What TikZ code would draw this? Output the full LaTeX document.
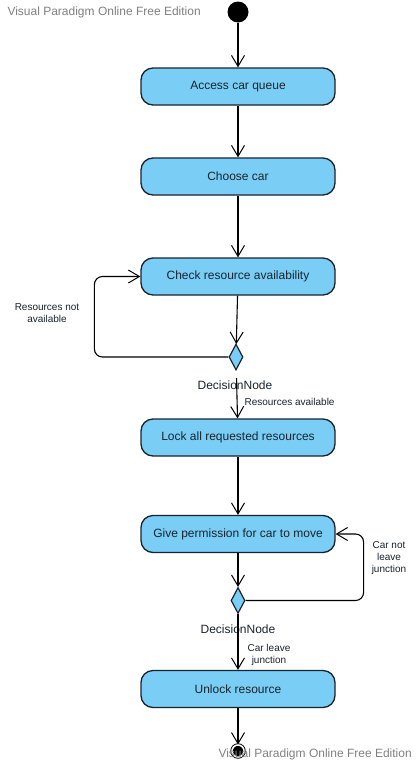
\documentclass[tikz,border=0pt]{standalone}
\usepackage{fontspec}
\setmainfont{Liberation Sans}
\usetikzlibrary{arrows.meta,shapes.geometric}
\definecolor{actfill}{RGB}{122,206,245}
\definecolor{actline}{RGB}{25,35,45}
\definecolor{markgray}{RGB}{128,128,128}

\begin{document}
\begin{tikzpicture}[x=1pt, y=-1pt,
  action/.style={draw=actline, fill=actfill, line width=1.3pt, rounded corners=12pt,
    minimum width=194pt, minimum height=37pt, font=\fontsize{12}{14}\selectfont, text=actline},
  decision/.style={diamond, draw=actline, fill=actfill, line width=1.2pt,
    minimum width=14pt, minimum height=26pt, inner sep=0pt},
  startnode/.style={circle, fill=black, minimum size=21pt, inner sep=0pt},
  endnode/.style={circle, draw=black, fill=black, line width=0.9pt, double=white,
    double distance=1.6pt, minimum size=12pt, inner sep=0pt},
  flow/.style={-{Straight Barb[length=11pt,width=13pt,line width=1pt]}, line width=1.1pt},
  dlabel/.style={font=\fontsize{12}{14}\selectfont, text=actline},
  small/.style={font=\fontsize{10}{12}\selectfont, align=center, text=actline},
  watermark/.style={font=\fontsize{12}{14}\selectfont, text=markgray}
]
\useasboundingbox (0,0) rectangle (416,764);

\node[startnode] (start) at (238,12) {};
\node[action] (queue) at (238,86.5) {Access car queue};
\node[action] (choose) at (238,176.5) {Choose car};
\node[action] (check) at (238,276.5) {Check resource availability};
\node[decision] (dec1) at (236,357) {};
\node[dlabel] (dec1label) at (235,385) {DecisionNode};
\node[action] (lock) at (238,437.5) {Lock all requested resources};
\node[action] (permit) at (238,534) {Give permission for car to move};
\node[decision] (dec2) at (238,600.5) {};
\node[dlabel] (dec2label) at (238,629) {DecisionNode};
\node[action] (unlock) at (238,689) {Unlock resource};
\node[endnode] (finish) at (238,751) {};

\draw[flow] (start) -- (queue);
\draw[flow] (queue) -- (choose);
\draw[flow] (choose) -- (check);
\draw[flow] (check) -- (dec1);

% loop back when resources are missing
\draw[flow, rounded corners=8pt] (dec1.west) -- ++(-134,0) |- (check.west);
\node[small] at (47,313.5) {Resources not\\available};

\draw[flow, shorten <=8pt] (dec1) -- (lock);
\node[small, anchor=west] at (241,402) {Resources available};

\draw[flow] (lock) -- (permit);
\draw[flow] (permit) -- (dec2);

% loop back while car is still in junction
\draw[flow, rounded corners=8pt] (dec2.east) -- ++(118,0) |- (permit.east);
\node[small] at (389,558) {Car not\\leave\\junction};

\draw[flow] (dec2) -- (unlock);
\node[small] at (269,655) {Car leave\\junction};

\draw[flow] (unlock) -- (finish);

\node[watermark, anchor=west] at (4,12) {Visual Paradigm Online Free Edition};
\node[watermark, anchor=west] at (215,754) {Visual Paradigm Online Free Edition};
\end{tikzpicture}
\end{document}
